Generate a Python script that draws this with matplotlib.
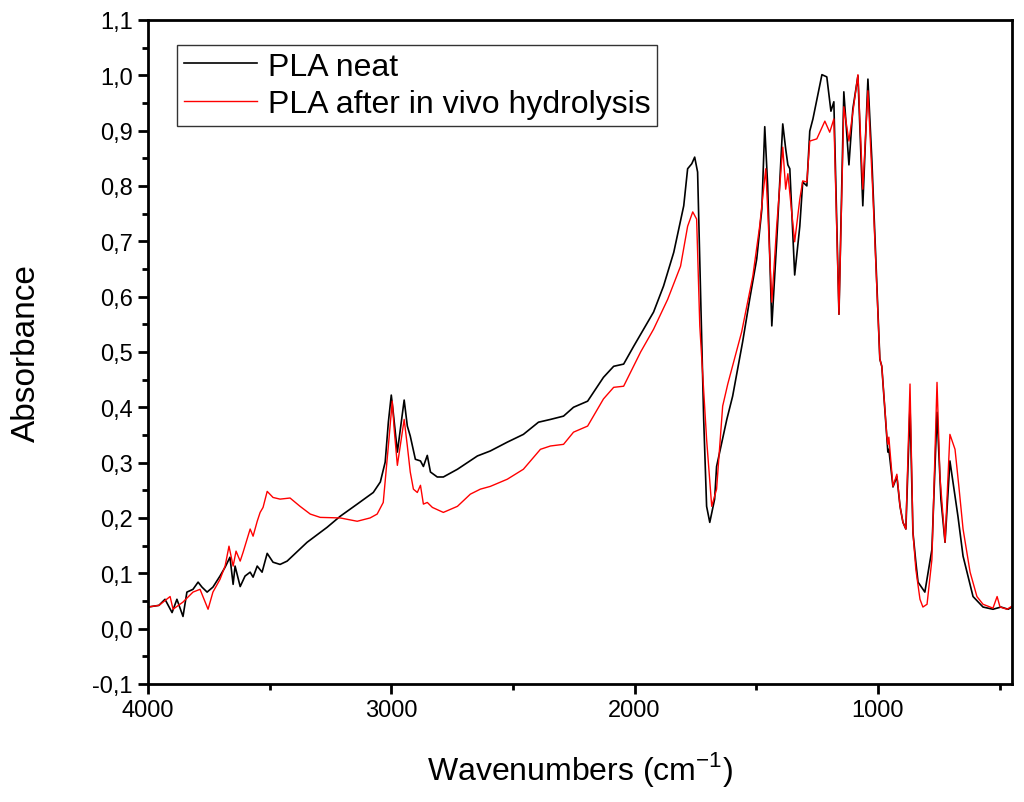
import matplotlib
matplotlib.use("Agg")
import matplotlib.pyplot as plt
from matplotlib.ticker import MultipleLocator, FuncFormatter

plt.rcParams['font.family'] = ['Liberation Sans', 'DejaVu Sans']

# PLA neat (black)
neat_wn = [4000, 3955, 3930, 3901, 3881, 3856, 3840, 3815, 3794, 3778, 3757, 3733, 3704, 3683,
           3663, 3650, 3642, 3621, 3601, 3580, 3568, 3551, 3531, 3510, 3486, 3457, 3428, 3346,
           3264, 3210, 3140, 3074, 3045, 3025, 3012, 3000, 2992, 2975, 2959, 2947, 2934, 2922,
           2901, 2880, 2868, 2852, 2839, 2811, 2786, 2728, 2646, 2593, 2523, 2457, 2395, 2346,
           2292, 2251, 2193, 2128, 2086, 2045, 2004, 1963, 1922, 1881, 1839, 1798, 1782, 1765,
           1753, 1741, 1728, 1716, 1704, 1691, 1671, 1663, 1621, 1597, 1556, 1527, 1498, 1477,
           1465, 1453, 1436, 1416, 1391, 1379, 1370, 1362, 1342, 1321, 1309, 1292, 1280, 1267,
           1230, 1210, 1193, 1181, 1160, 1140, 1119, 1103, 1082, 1062, 1041, 1025, 992, 984,
           963, 959, 955, 938, 922, 909, 897, 885, 868, 856, 844, 835, 807, 778, 757, 741, 724,
           704, 671, 650, 609, 568, 527, 494, 465, 444]
neat_abs = [0.039, 0.042, 0.053, 0.029, 0.053, 0.022, 0.066, 0.071, 0.084, 0.075, 0.066, 0.075,
            0.095, 0.111, 0.129, 0.080, 0.113, 0.076, 0.095, 0.102, 0.093, 0.113, 0.102, 0.136,
            0.120, 0.116, 0.122, 0.156, 0.183, 0.203, 0.225, 0.246, 0.265, 0.301, 0.373, 0.422,
            0.391, 0.319, 0.373, 0.413, 0.366, 0.348, 0.306, 0.303, 0.293, 0.313, 0.283, 0.274,
            0.274, 0.288, 0.312, 0.321, 0.337, 0.351, 0.373, 0.378, 0.384, 0.400, 0.411, 0.454,
            0.474, 0.478, 0.510, 0.541, 0.572, 0.619, 0.680, 0.764, 0.831, 0.840, 0.852, 0.825,
            0.595, 0.378, 0.221, 0.192, 0.234, 0.293, 0.378, 0.420, 0.518, 0.595, 0.668, 0.758,
            0.907, 0.800, 0.547, 0.699, 0.912, 0.867, 0.838, 0.831, 0.639, 0.727, 0.807, 0.800,
            0.899, 0.921, 1.001, 0.997, 0.935, 0.952, 0.568, 0.970, 0.838, 0.939, 0.999, 0.764,
            0.993, 0.849, 0.487, 0.474, 0.342, 0.319, 0.324, 0.256, 0.275, 0.221, 0.192, 0.180,
            0.402, 0.174, 0.120, 0.084, 0.066, 0.143, 0.391, 0.234, 0.156, 0.303, 0.203, 0.131,
            0.058, 0.039, 0.035, 0.039, 0.035, 0.040]

# PLA after in vivo hydrolysis (red)
hyd_wn = [4000, 3955, 3909, 3897, 3856, 3815, 3786, 3753, 3733, 3704, 3683, 3667, 3650, 3638,
          3621, 3609, 3580, 3568, 3551, 3539, 3527, 3510, 3486, 3457, 3416, 3375, 3333, 3292,
          3210, 3140, 3087, 3058, 3033, 3012, 2996, 2988, 2975, 2959, 2947, 2934, 2922, 2909,
          2893, 2880, 2868, 2852, 2831, 2786, 2728, 2675, 2634, 2593, 2523, 2457, 2387, 2346,
          2292, 2251, 2193, 2128, 2086, 2045, 1975, 1922, 1864, 1811, 1782, 1761, 1745, 1732,
          1704, 1683, 1663, 1638, 1617, 1560, 1514, 1486, 1461, 1453, 1436, 1416, 1391, 1379,
          1370, 1342, 1321, 1309, 1292, 1280, 1251, 1218, 1198, 1181, 1160, 1140, 1119, 1082,
          1062, 1041, 1021, 992, 984, 963, 959, 955, 938, 922, 909, 897, 885, 868, 856, 844,
          827, 815, 798, 778, 757, 745, 724, 704, 683, 667, 650, 621, 593, 568, 527, 510, 498,
          469, 444]
hyd_abs = [0.039, 0.042, 0.058, 0.035, 0.048, 0.066, 0.071, 0.035, 0.066, 0.089, 0.113, 0.149,
           0.113, 0.140, 0.122, 0.138, 0.180, 0.167, 0.194, 0.210, 0.219, 0.248, 0.237, 0.234,
           0.236, 0.221, 0.207, 0.201, 0.200, 0.194, 0.200, 0.207, 0.228, 0.330, 0.411, 0.360,
           0.295, 0.342, 0.378, 0.330, 0.283, 0.252, 0.246, 0.259, 0.225, 0.228, 0.219, 0.210,
           0.221, 0.243, 0.252, 0.257, 0.270, 0.288, 0.324, 0.330, 0.333, 0.355, 0.366, 0.415,
           0.436, 0.438, 0.500, 0.541, 0.595, 0.655, 0.727, 0.753, 0.740, 0.547, 0.342, 0.221,
           0.252, 0.402, 0.442, 0.536, 0.637, 0.727, 0.831, 0.758, 0.590, 0.727, 0.870, 0.794,
           0.822, 0.699, 0.776, 0.809, 0.807, 0.881, 0.885, 0.917, 0.897, 0.921, 0.568, 0.943,
           0.881, 1.001, 0.794, 0.972, 0.789, 0.487, 0.474, 0.346, 0.333, 0.346, 0.257, 0.279,
           0.221, 0.192, 0.180, 0.442, 0.174, 0.107, 0.053, 0.039, 0.044, 0.125, 0.445, 0.275,
           0.156, 0.351, 0.324, 0.256, 0.180, 0.102, 0.058, 0.044, 0.037, 0.058, 0.039, 0.035,
           0.042]

labels = ["PLA neat", "PLA after in vivo hydrolysis"]

fig = plt.figure(figsize=(10.24, 8.03), dpi=100)
ax = fig.add_axes([0.1445, 0.147, 0.8435, 0.827])

ax.plot(neat_wn, neat_abs, color='black', lw=1.2, label=labels[0])
ax.plot(hyd_wn, hyd_abs, color='#ff0000', lw=1.0, label=labels[1])

ax.set_xlim(4000, 450)
ax.set_ylim(-0.1, 1.1)
ax.xaxis.set_major_locator(MultipleLocator(1000))
ax.xaxis.set_minor_locator(MultipleLocator(500))
ax.yaxis.set_major_locator(MultipleLocator(0.1))
ax.yaxis.set_minor_locator(MultipleLocator(0.05))
ax.yaxis.set_major_formatter(FuncFormatter(lambda v, p: ("%.1f" % v).replace('.', ',').replace('-0,0', '0,0')))
ax.xaxis.set_major_formatter(FuncFormatter(lambda v, p: "%d" % v))

for s in ax.spines.values():
    s.set_linewidth(2)
ax.tick_params(which='both', direction='out', top=False, right=False, width=2, labelsize=17)
ax.tick_params(which='major', length=7, pad=4)
ax.tick_params(which='minor', length=4)

ax.set_xlabel(r"Wavenumbers (cm$^{\mathregular{-1}}$)", fontsize=23, labelpad=20)
ax.set_ylabel("Absorbance", fontsize=24, labelpad=36)

leg = ax.legend(loc='upper left', bbox_to_anchor=(0.034, 0.962), borderaxespad=0,
                fontsize=23, handlelength=2.3, handletextpad=0.35, borderpad=0.2,
                labelspacing=0.25, fancybox=False, framealpha=1, edgecolor='#333333')
leg.get_frame().set_linewidth(1.0)

fig.savefig("out.png", dpi=100)
